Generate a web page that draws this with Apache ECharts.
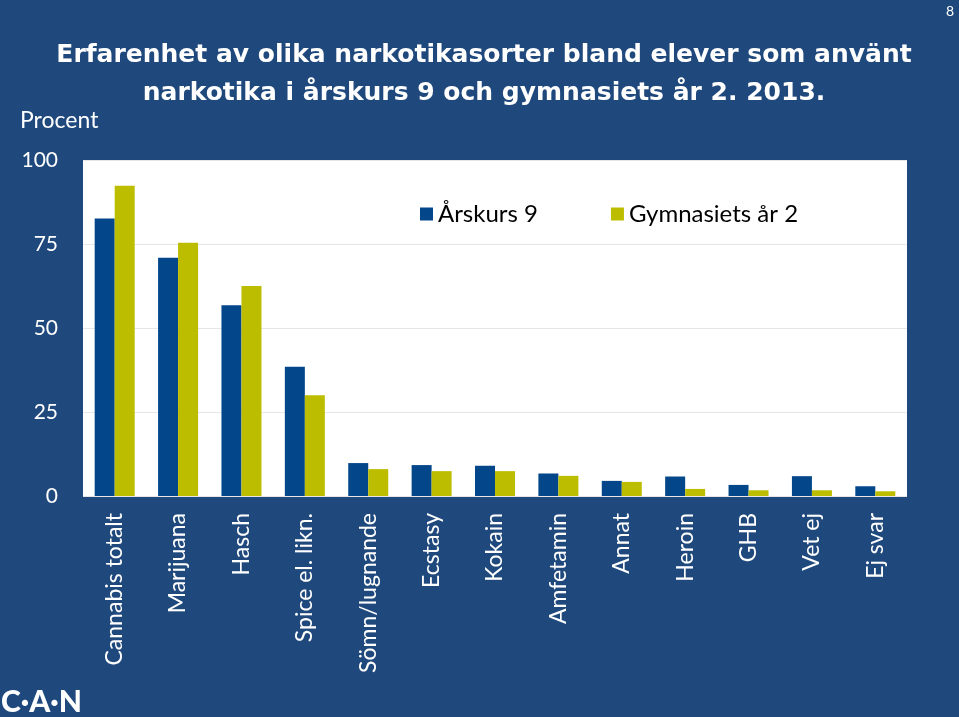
<!DOCTYPE html>
<html>
<head>
<meta charset="utf-8">
<script src="https://cdn.jsdelivr.net/npm/echarts@6/dist/echarts.min.js"></script>
<style>html,body{margin:0;padding:0;background:#1f497d;}#c{width:959px;height:717px;}</style>
</head>
<body>
<div id="c"></div>
<script>
var categories = ['Cannabis totalt','Marijuana','Hasch','Spice el. likn.','Sömn/lugnande','Ecstasy','Kokain','Amfetamin','Annat','Heroin','GHB','Vet ej','Ej svar'];
var arskurs9 = [82.6, 70.9, 56.8, 38.5, 9.8, 9.2, 9.0, 6.7, 4.5, 5.8, 3.3, 5.9, 2.9];
var gymnasiet2 = [92.3, 75.4, 62.5, 30.0, 8.0, 7.4, 7.4, 6.0, 4.2, 2.1, 1.7, 1.7, 1.4];
var yTicks = [0, 25, 50, 75, 100];

var chart = echarts.init(document.getElementById('c'));
var FONT = 'Lato, "Open Sans", sans-serif';
chart.setOption({
  backgroundColor: '#1f497d',
  animation: false,
  title: {
    text: 'Erfarenhet av olika narkotikasorter bland elever som använt\nnarkotika i årskurs 9 och gymnasiets år 2. 2013.',
    left: 479, top: 31, textAlign: 'center',
    textStyle: {color: '#ffffff', fontFamily: '"DejaVu Sans"', fontWeight: 'bold', fontSize: 25, lineHeight: 38}
  },
  legend: {
    left: 420, top: 202, padding: 0,
    itemWidth: 13, itemHeight: 13, itemGap: 73,
    icon: 'rect',
    textStyle: {color: '#000000', fontFamily: FONT, fontSize: 24},
    data: ['Årskurs 9', 'Gymnasiets år 2']
  },
  graphic: [
    {type: 'rect', z: -1, shape: {x: 83, y: 160, width: 824, height: 336}, style: {fill: '#ffffff'}},
    {type: 'text', left: 20, top: 109, style: {text: 'Procent', fill: '#ffffff', font: '23px ' + FONT}},
    {type: 'text', left: 946, top: 4, style: {text: '8', fill: '#ffffff', font: '14px ' + FONT}},
    {type: 'text', left: 1, top: 687, style: {text: 'C·A·N', fill: '#ffffff', font: '900 30px ' + FONT}}
  ],
  grid: {left: 83, right: 52, top: 160, bottom: 221, containLabel: false},
  xAxis: {
    type: 'category', data: categories,
    axisLine: {show: false}, axisTick: {show: false},
    axisLabel: {rotate: 90, color: '#ffffff', fontFamily: FONT, fontSize: 23, margin: 17, interval: 0}
  },
  yAxis: {
    type: 'value', min: 0, max: 100, interval: 25,
    axisLine: {show: false}, axisTick: {show: false},
    axisLabel: {color: '#ffffff', fontFamily: FONT, fontSize: 21, margin: 25,
      customValues: yTicks},
    splitLine: {lineStyle: {color: '#e6e6e6', width: 1}}
  },
  series: [
    {name: 'Årskurs 9', type: 'bar', data: arskurs9, barWidth: 20, barGap: '0%', itemStyle: {color: '#03468a'}},
    {name: 'Gymnasiets år 2', type: 'bar', data: gymnasiet2, barWidth: 20, barGap: '0%', itemStyle: {color: '#bdbd00'}}
  ]
});
</script>
</body>
</html>
